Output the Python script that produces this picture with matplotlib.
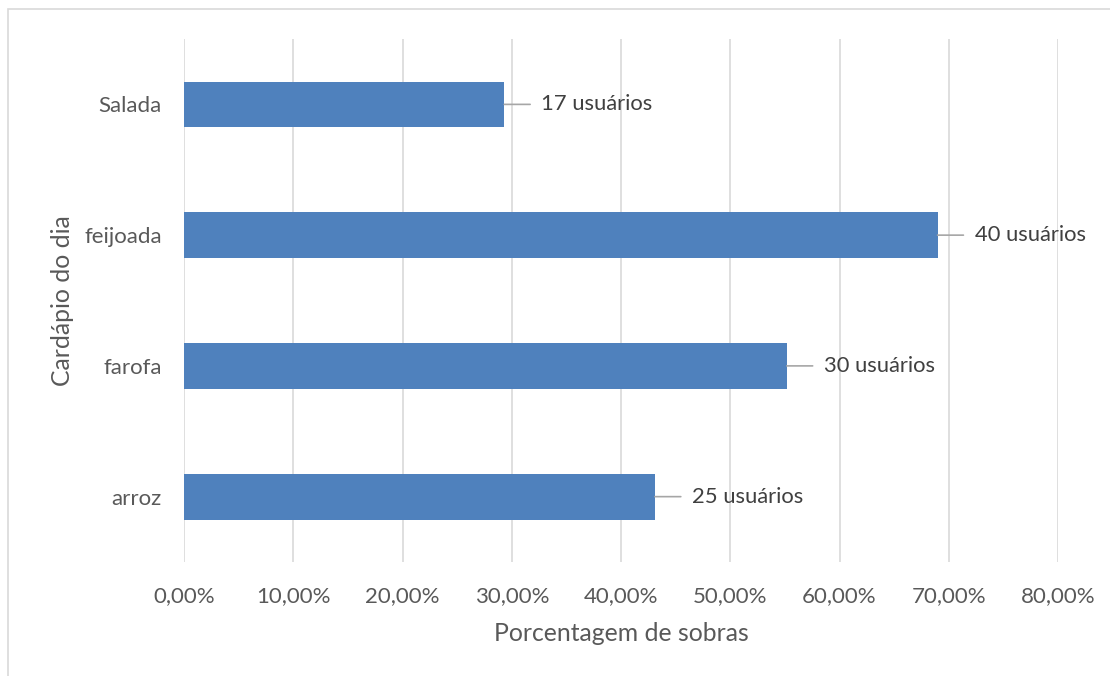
import matplotlib.pyplot as plt
from matplotlib.ticker import FuncFormatter

# cardápio e porcentagem de sobras
pratos = ["arroz", "farofa", "feijoada", "Salada"]
sobras = [43.10, 55.17, 68.97, 29.31]
usuarios = [25, 30, 40, 17]

cinza = "#595959"
plt.rcParams["font.family"] = ["Lato", "DejaVu Sans"]

fig = plt.figure(figsize=(11.1, 6.76), dpi=100)
ax = fig.add_axes([0.1658, 0.1686, 0.7874, 0.7737])

# moldura do gráfico
fig.patches.append(plt.Rectangle((8 / 1110, -0.1), 1.2, 1 - 9 / 676 + 0.1,
                                 transform=fig.transFigure, fill=False,
                                 edgecolor="#d9d9d9", linewidth=1.2))

y = range(len(pratos))
ax.barh(y, sobras, height=0.35, color="#4f81bd", zorder=3)

# rótulos com linha de chamada
for i in y:
    ax.annotate(f"{usuarios[i]} usuários", xy=(sobras[i], i),
                xytext=(37, 0), textcoords="offset pixels",
                va="center", ha="left", fontsize=15.8, color="#404040",
                arrowprops=dict(arrowstyle="-", color="#a6a6a6", lw=1.2,
                                shrinkA=6, shrinkB=0))

ax.set_xlim(0, 80)
ax.set_ylim(-0.5, 3.5)
ax.set_xticks(range(0, 81, 10))
ax.xaxis.set_major_formatter(FuncFormatter(lambda v, p: f"{v:.2f}%".replace(".", ",")))
ax.set_yticks(list(y))
ax.set_yticklabels(pratos)
ax.grid(axis="x", color="#d9d9d9", linewidth=1.2, zorder=0)
for s in ax.spines.values():
    s.set_visible(False)
ax.tick_params(length=0, labelsize=16, labelcolor=cinza)
ax.tick_params(axis="y", pad=16)
ax.tick_params(axis="x", pad=17)

ax.set_xlabel("Porcentagem de sobras", fontsize=17.8, color=cinza, labelpad=12)
ax.set_ylabel("Cardápio do dia", fontsize=17.8, color=cinza, labelpad=7)

fig.savefig("out.png", dpi=100)
